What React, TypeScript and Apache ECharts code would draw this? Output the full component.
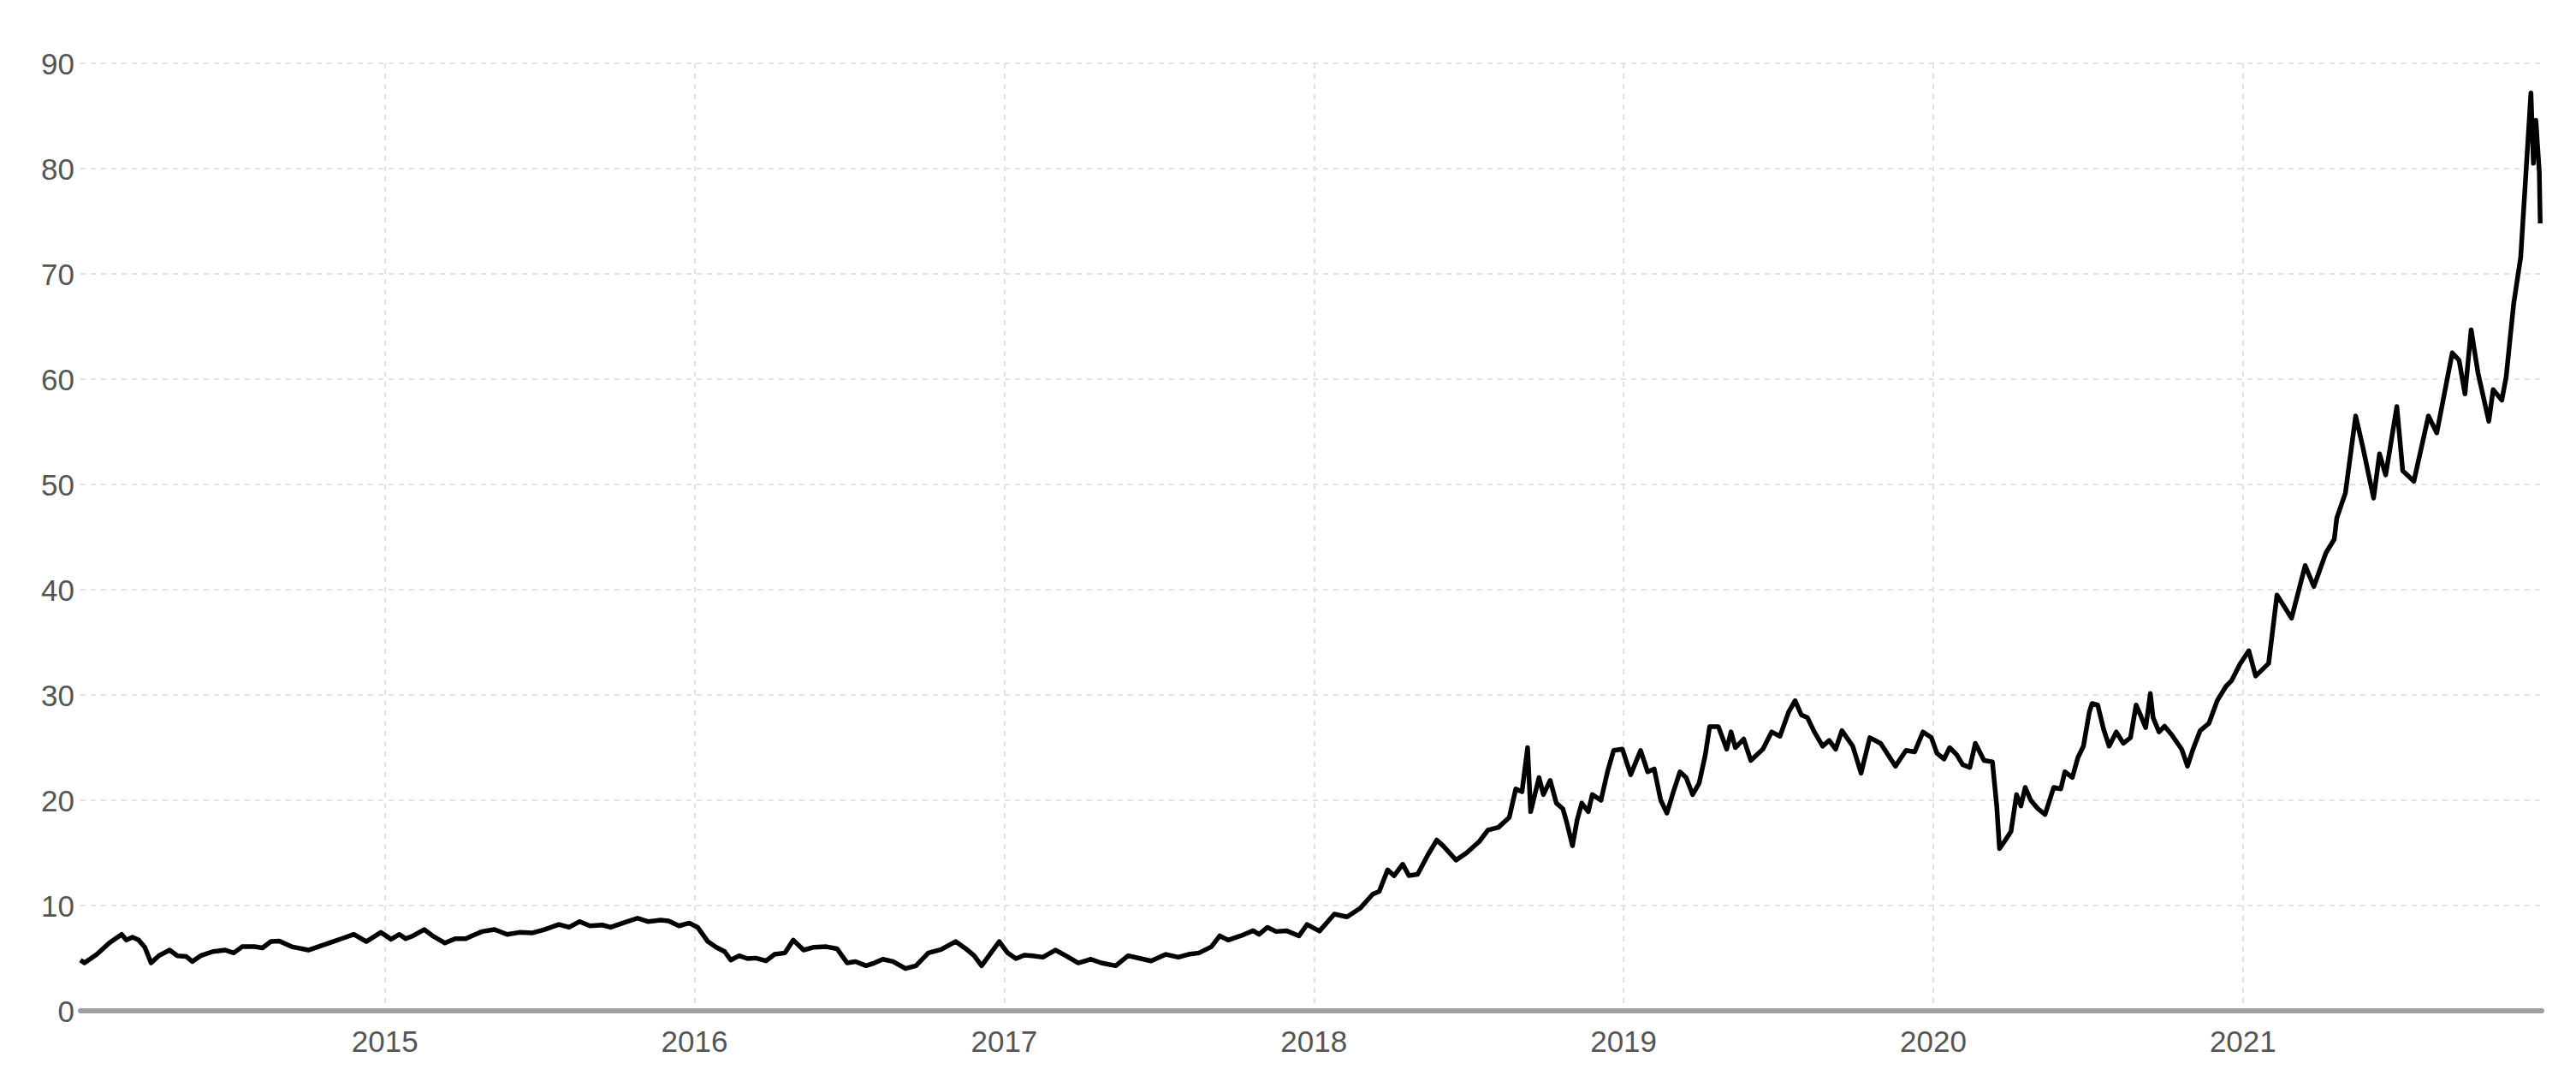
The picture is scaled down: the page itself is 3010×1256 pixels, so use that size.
import React, { useEffect, useRef } from "react";
import * as echarts from "echarts";

// Time in decimal years and closing values
const times2014_2015: number[] = [
  2014.017, 2014.03, 2014.07, 2014.11, 2014.15, 2014.165, 2014.185, 2014.205, 2014.225, 2014.245,
  2014.27, 2014.305, 2014.33, 2014.358, 2014.378, 2014.405, 2014.445, 2014.485, 2014.512, 2014.539,
  2014.579, 2014.605, 2014.632, 2014.659, 2014.699, 2014.753, 2014.793, 2014.833, 2014.86, 2014.9,
  2014.94, 2014.987, 2015.02, 2015.047, 2015.067, 2015.087, 2015.127, 2015.154, 2015.194, 2015.227,
  2015.261, 2015.281, 2015.314, 2015.354, 2015.395, 2015.435, 2015.475, 2015.515, 2015.562, 2015.595,
  2015.629, 2015.662, 2015.702, 2015.729, 2015.769, 2015.816, 2015.849, 2015.89, 2015.916, 2015.95,
  2015.983,
];
const values2014_2015: number[] = [
  4.82, 4.55, 5.36, 6.44, 7.26, 6.72, 6.99, 6.72, 6.04, 4.55,
  5.23, 5.77, 5.23, 5.17, 4.68, 5.23, 5.63, 5.77, 5.5, 6.09,
  6.09, 5.98, 6.58, 6.63, 6.09, 5.77, 6.17, 6.58, 6.85, 7.26,
  6.58, 7.45, 6.8, 7.26, 6.85, 7.07, 7.72, 7.12, 6.44, 6.85,
  6.85, 7.12, 7.53, 7.72, 7.26, 7.45, 7.39, 7.72, 8.2, 7.93,
  8.48, 8.07, 8.15, 7.93, 8.34, 8.8, 8.48, 8.61, 8.53, 8.07,
  8.34,
];

const times2016_2017: number[] = [
  2016.01, 2016.043, 2016.07, 2016.097, 2016.117, 2016.144, 2016.171, 2016.198, 2016.231, 2016.258,
  2016.292, 2016.319, 2016.352, 2016.386, 2016.426, 2016.46, 2016.493, 2016.52, 2016.554, 2016.581,
  2016.608, 2016.641, 2016.681, 2016.715, 2016.755, 2016.796, 2016.843, 2016.876, 2016.903, 2016.927,
  2016.957, 2016.984, 2017.011, 2017.038, 2017.065, 2017.091, 2017.125, 2017.165, 2017.199, 2017.239,
  2017.28, 2017.313, 2017.36, 2017.4, 2017.441, 2017.474, 2017.522, 2017.562, 2017.595, 2017.629,
  2017.669, 2017.696, 2017.723, 2017.763, 2017.804, 2017.823, 2017.85, 2017.878, 2017.911, 2017.952,
  2017.978,
];
const values2016_2017: number[] = [
  7.93, 6.58, 6.04, 5.63, 4.82, 5.23, 4.96, 5.01, 4.74, 5.36,
  5.5, 6.72, 5.77, 6.04, 6.09, 5.9, 4.55, 4.68, 4.28, 4.55,
  4.9, 4.68, 4.01, 4.28, 5.5, 5.82, 6.58, 5.9, 5.23, 4.28,
  5.5, 6.58, 5.5, 4.96, 5.28, 5.23, 5.09, 5.77, 5.23, 4.55,
  4.9, 4.55, 4.28, 5.23, 4.96, 4.74, 5.36, 5.09, 5.36, 5.5,
  6.09, 7.12, 6.72, 7.12, 7.61, 7.26, 7.93, 7.53, 7.61, 7.12,
  8.2,
];

const times2018_2019: number[] = [
  2018.018, 2018.066, 2018.107, 2018.149, 2018.19, 2018.211, 2018.238, 2018.259, 2018.287, 2018.307,
  2018.335, 2018.369, 2018.397, 2018.417, 2018.459, 2018.493, 2018.534, 2018.562, 2018.596, 2018.631,
  2018.652, 2018.672, 2018.69, 2018.7, 2018.727, 2018.741, 2018.763, 2018.783, 2018.804, 2018.817,
  2018.835, 2018.85, 2018.865, 2018.886, 2018.899, 2018.927, 2018.948, 2018.968, 2018.996, 2019.023,
  2019.055, 2019.078, 2019.099, 2019.12, 2019.14, 2019.161, 2019.182, 2019.202, 2019.223, 2019.244,
  2019.264, 2019.278, 2019.306, 2019.333, 2019.347, 2019.361, 2019.388, 2019.411, 2019.45, 2019.478,
  2019.505, 2019.533, 2019.554, 2019.574, 2019.594, 2019.616, 2019.643, 2019.664, 2019.685, 2019.705,
  2019.74, 2019.767, 2019.795, 2019.83, 2019.878, 2019.912, 2019.94, 2019.967, 2019.994,
];
const values2018_2019: number[] = [
  7.57, 9.19, 8.92, 9.73, 11.08, 11.35, 13.38, 12.84, 13.92, 12.84,
  12.97, 14.86, 16.22, 15.68, 14.32, 15.0, 16.08, 17.16, 17.43, 18.38,
  21.08, 20.81, 25.0, 18.92, 22.16, 20.54, 21.89, 19.73, 19.19, 17.84,
  15.68, 18.11, 19.73, 18.92, 20.54, 20.0, 22.7, 24.73, 24.86, 22.43,
  24.73, 22.7, 22.97, 20.0, 18.78, 20.81, 22.7, 22.16, 20.54, 21.62,
  24.32, 27.0, 27.0, 24.86, 26.49, 25.0, 25.81, 23.78, 24.86, 26.49,
  26.08, 28.38, 29.46, 28.11, 27.84, 26.49, 25.14, 25.68, 24.86, 26.62,
  25.14, 22.57, 25.95, 25.41, 23.24, 24.73, 24.59, 26.49, 25.95,
];

const times2020: number[] = [
  2020.012, 2020.035, 2020.053, 2020.076, 2020.095, 2020.118, 2020.136, 2020.164, 2020.191, 2020.205,
  2020.214, 2020.233, 2020.251, 2020.269, 2020.283, 2020.297, 2020.315, 2020.338, 2020.361, 2020.389,
  2020.412, 2020.425, 2020.449, 2020.467, 2020.485, 2020.504, 2020.513, 2020.531, 2020.55, 2020.568,
  2020.591, 2020.614, 2020.637, 2020.655, 2020.669, 2020.686, 2020.701, 2020.71, 2020.729, 2020.747,
  2020.77, 2020.802, 2020.821, 2020.839, 2020.862, 2020.89, 2020.917, 2020.945, 2020.963, 2020.991,
];
const values2020: number[] = [
  24.46, 23.92, 25.0, 24.32, 23.38, 23.11, 25.41, 23.78, 23.65, 19.46,
  15.41, 16.22, 17.03, 20.54, 19.46, 21.22, 20.0, 19.19, 18.65, 21.22,
  21.08, 22.7, 22.16, 24.05, 25.14, 28.38, 29.19, 29.05, 26.76, 25.14,
  26.49, 25.41, 25.95, 29.05, 28.11, 26.89, 30.14, 27.84, 26.49, 27.03,
  26.22, 24.86, 23.24, 24.86, 26.62, 27.3, 29.46, 30.81, 31.35, 32.97,
];

const times2021: number[] = [
  2021.019, 2021.041, 2021.083, 2021.11, 2021.157, 2021.201, 2021.229, 2021.268, 2021.295, 2021.303,
  2021.331, 2021.364, 2021.386, 2021.422, 2021.441, 2021.461, 2021.497, 2021.516, 2021.552, 2021.599,
  2021.626, 2021.676, 2021.698, 2021.717, 2021.737, 2021.759, 2021.794, 2021.808, 2021.836, 2021.85,
  2021.874, 2021.897, 2021.93, 2021.938, 2021.946, 2021.957, 2021.96,
];
const values2021: number[] = [
  34.2, 31.8, 33.0, 39.5, 37.3, 42.3, 40.3, 43.5, 44.8, 46.8,
  49.2, 56.5, 53.7, 48.7, 52.9, 50.9, 57.4, 51.3, 50.3, 56.5,
  54.9, 62.5, 61.8, 58.6, 64.7, 60.6, 56.0, 59.0, 58.0, 60.2,
  67.1, 71.6, 87.2, 80.5, 84.6, 79.7, 74.8,
];

// Axis settings
const X_MIN = 2014.017;
const X_MAX = 2021.965;
const Y_MIN = 0;
const Y_MAX = 90;
const Y_STEP = 10;

const FONT = "'Liberation Sans', Arial, sans-serif";

export default function App() {
  const ref = useRef<HTMLDivElement>(null);

  useEffect(() => {
    if (!ref.current) return;
    const chart = echarts.init(ref.current, null, { renderer: "svg" });
    const times = [...times2014_2015, ...times2016_2017, ...times2018_2019, ...times2020, ...times2021];
    const values = [...values2014_2015, ...values2016_2017, ...values2018_2019, ...values2020, ...values2021];
    const data = times.map((t, i) => [t, values[i]]);

    chart.setOption({
      animation: false,
      backgroundColor: "#ffffff",
      grid: { left: 94, right: 40, top: 74, bottom: 75, containLabel: false },
      xAxis: {
        type: "value",
        min: X_MIN,
        max: X_MAX,
        minInterval: 1,
        maxInterval: 1,
        splitNumber: 8,
        axisLine: { show: true, onZero: true, lineStyle: { color: "#a0a0a0", width: 6 } },
        axisTick: { show: false },
        axisLabel: {
          showMinLabel: false,
          showMaxLabel: false,
          formatter: (v: number) => (Math.abs(v - Math.round(v)) < 1e-6 ? String(Math.round(v)) : ""),
          color: "#555555",
          fontSize: 35,
          fontFamily: FONT,
          margin: 18,
        },
        splitLine: {
          show: true,
          showMinLine: false,
          showMaxLine: false,
          lineStyle: { color: "#e2e2e2", width: 2, type: [6, 6] },
        },
      },
      yAxis: {
        type: "value",
        min: Y_MIN,
        max: Y_MAX,
        interval: Y_STEP,
        axisLine: { show: false },
        axisTick: { show: false },
        axisLabel: { color: "#555555", fontSize: 35, fontFamily: FONT, margin: 7 },
        splitLine: { show: true, lineStyle: { color: "#e2e2e2", width: 2, type: [6, 6] } },
      },
      series: [
        {
          type: "line",
          data,
          symbol: "none",
          showSymbol: false,
          lineStyle: { color: "#000000", width: 5.5, join: "round" },
          z: 3,
        },
      ],
    });
    return () => chart.dispose();
  }, []);

  return <div ref={ref} style={{ position: "fixed", left: 0, top: 0, width: 3010, height: 1256 }} />;
}
